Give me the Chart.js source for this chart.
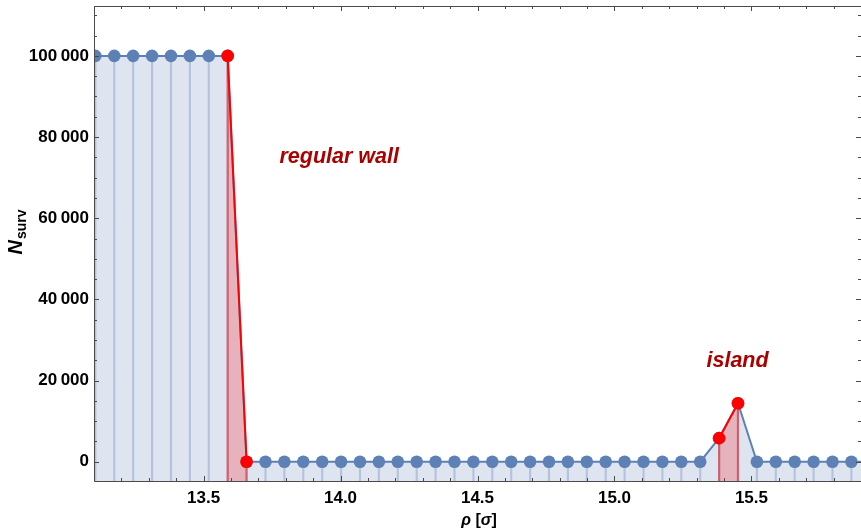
<!DOCTYPE html>
<html>
<head>
<meta charset="utf-8">
<script src="https://cdn.jsdelivr.net/npm/chart.js@4.4.1/dist/chart.umd.min.js"></script>
<style>
  html, body { margin: 0; padding: 0; background: #fff; overflow: hidden; }
  canvas { display: block; }
</style>
</head>
<body>
<canvas id="survChart" width="861" height="531"></canvas>
<script>
// shell radius and survivors per shell
const rho = [13.036, 13.105, 13.174, 13.243, 13.312, 13.381, 13.450, 13.519, 13.588, 13.657,
  13.726, 13.795, 13.864, 13.933, 14.002, 14.071, 14.140, 14.209, 14.278, 14.347,
  14.416, 14.485, 14.554, 14.623, 14.692, 14.761, 14.830, 14.899, 14.968, 15.037,
  15.106, 15.175, 15.244, 15.313, 15.382, 15.451, 15.520, 15.589, 15.658, 15.727,
  15.796, 15.865, 15.934];
const nSurv = [100000, 100000, 100000, 100000, 100000, 100000, 100000, 100000, 100000, 0,
  0, 0, 0, 0, 0, 0, 0, 0, 0, 0,
  0, 0, 0, 0, 0, 0, 0, 0, 0, 0,
  0, 0, 0, 0, 5800, 14400, 0, 0, 0, 0,
  0, 0, 0];

// highlighted segments
const wallRho = [13.588, 13.657];
const wallN = [100000, 0];
const islandRho = [15.382, 15.451];
const islandN = [5800, 14400];

const xTicks = [13.5, 14.0, 14.5, 15.0, 15.5];
const xMinor = [13.1, 13.2, 13.3, 13.4, 13.5, 13.6, 13.7, 13.8, 13.9, 14.0, 14.1, 14.2, 14.3, 14.4,
  14.5, 14.6, 14.7, 14.8, 14.9, 15.0, 15.1, 15.2, 15.3, 15.4, 15.5, 15.6, 15.7, 15.8, 15.9];
const yTicks = [0, 20000, 40000, 60000, 80000, 100000];
const yMinor = [0, 5000, 10000, 15000, 20000, 25000, 30000, 35000, 40000, 45000, 50000, 55000,
  60000, 65000, 70000, 75000, 80000, 85000, 90000, 95000, 100000, 105000, 110000];
const notes = ["regular wall", "island"];

const X_MIN = 13.1, X_MAX = 15.9;
const Y_MIN = -4760, Y_MAX = 112300;

const FONT = '"Liberation Sans", Arial, sans-serif';
const BLUE = "#5e81b5";
const RED = "#ff0000";

function stems(xs, ys) {
  return xs.map((x, i) => ({ x: x, y: [Y_MIN, ys[i]] }));
}
function pts(xs, ys) {
  return xs.map((x, i) => ({ x: x, y: ys[i] }));
}
function thin(v) {
  return String(v).replace(/\B(?=(\d{3})+(?!\d))/g, "\u2009");
}

// frame with inward ticks, axis titles and notes
const decor = {
  id: "decor",
  afterDatasetsDraw(chart) {
    const { ctx, chartArea: a, scales } = chart;
    const xs = scales.x, ys = scales.y;
    ctx.save();
    ctx.strokeStyle = "#4a4a4a";
    ctx.lineWidth = 1;
    ctx.beginPath();
    ctx.rect(a.left + 0.5, a.top + 0.5, a.right - a.left, a.bottom - a.top);
    ctx.stroke();
    ctx.beginPath();
    xMinor.forEach(v => {
      const px = Math.round(xs.getPixelForValue(v)) + 0.5;
      const len = xTicks.some(t => Math.abs(t - v) < 1e-6) ? 5 : 3;
      ctx.moveTo(px, a.bottom);
      ctx.lineTo(px, a.bottom - len);
      ctx.moveTo(px, a.top);
      ctx.lineTo(px, a.top + len);
    });
    yMinor.forEach(v => {
      const py = Math.round(ys.getPixelForValue(v)) + 0.5;
      const len = yTicks.includes(v) ? 5 : 3;
      ctx.moveTo(a.left, py);
      ctx.lineTo(a.left + len, py);
      ctx.moveTo(a.right, py);
      ctx.lineTo(a.right - len, py);
    });
    ctx.stroke();
    ctx.restore();
  },
  afterDraw(chart) {
    const { ctx, scales } = chart;
    const xs = scales.x, ys = scales.y;
    ctx.save();
    ctx.fillStyle = "#000";
    ctx.textBaseline = "alphabetic";

    // x title: rho [sigma]
    const parts = [
      ["\u03c1", "italic bold 16px " + FONT],
      [" [", "bold 16px " + FONT],
      ["\u03c3", "italic bold 16px " + FONT],
      ["]", "bold 16px " + FONT]
    ];
    let total = 0;
    parts.forEach(p => { ctx.font = p[1]; total += ctx.measureText(p[0]).width; });
    let cx = 479 - total / 2;
    parts.forEach(p => {
      ctx.font = p[1];
      ctx.fillText(p[0], cx, 524.5);
      cx += ctx.measureText(p[0]).width;
    });

    // y title: N_surv
    ctx.save();
    ctx.translate(22, 232);
    ctx.rotate(-Math.PI / 2);
    ctx.font = "italic bold 20px " + FONT;
    const wN = ctx.measureText("N").width;
    ctx.font = "bold 14px " + FONT;
    const wS = ctx.measureText("surv").width;
    const x0 = -(wN + wS + 1) / 2;
    ctx.font = "italic bold 20px " + FONT;
    ctx.fillText("N", x0, 0);
    ctx.font = "bold 14px " + FONT;
    ctx.fillText("surv", x0 + wN + 1, 4);
    ctx.restore();

    // notes
    ctx.fillStyle = "#aa0000";
    ctx.font = "italic bold 21.5px " + FONT;
    ctx.fillText(notes[0], xs.getPixelForValue(13.777), ys.getPixelForValue(73530));
    ctx.fillText(notes[1], xs.getPixelForValue(15.336), ys.getPixelForValue(23340));
    ctx.restore();
  }
};

const tickFont = { family: FONT, size: 17, weight: "bold" };

new Chart(document.getElementById("survChart"), {
  type: "line",
  data: {
    datasets: [
      {
        label: "wall",
        data: pts(wallRho, wallN),
        borderColor: RED,
        borderWidth: 2,
        backgroundColor: "rgba(255,0,0,0.22)",
        fill: "start",
        pointRadius: 6.3,
        pointBackgroundColor: RED,
        pointBorderWidth: 0,
        clip: 0
      },
      {
        label: "island",
        data: pts(islandRho, islandN),
        borderColor: RED,
        borderWidth: 2,
        backgroundColor: "rgba(255,0,0,0.22)",
        fill: "start",
        pointRadius: 6.3,
        pointBackgroundColor: RED,
        pointBorderWidth: 0,
        clip: 0
      },
      {
        type: "bar",
        label: "red stems",
        data: stems(wallRho.concat(islandRho), wallN.concat(islandN)),
        backgroundColor: "rgba(225,40,50,0.6)",
        barThickness: 1.5,
        grouped: false,
        clip: 0
      },
      {
        label: "N_surv",
        data: pts(rho, nSurv),
        borderColor: BLUE,
        borderWidth: 2,
        backgroundColor: "#dfe5f0",
        fill: "start",
        pointRadius: 6.3,
        pointBackgroundColor: BLUE,
        pointBorderWidth: 0,
        clip: 0
      },
      {
        type: "bar",
        label: "stems",
        data: stems(rho, nSurv),
        backgroundColor: "rgba(94,129,181,0.33)",
        barThickness: 1.5,
        grouped: false,
        clip: 0
      }
    ]
  },
  options: {
    responsive: false,
    animation: false,
    // plot frame runs just past the right edge of the canvas
    layout: { autoPadding: false, padding: { top: 6, right: -2, left: 0, bottom: 0 } },
    plugins: {
      legend: { display: false },
      tooltip: { enabled: false },
      filler: { drawTime: "beforeDatasetsDraw" }
    },
    elements: { line: { tension: 0 } },
    scales: {
      x: {
        type: "linear",
        min: X_MIN,
        max: X_MAX,
        offset: false,
        grid: { display: false, drawTicks: false },
        border: { display: false },
        ticks: {
          padding: 7,
          color: "#000",
          font: tickFont,
          autoSkip: false,
          maxRotation: 0,
          callback: v => v.toFixed(1)
        },
        afterBuildTicks: s => { s.ticks = xTicks.map(v => ({ value: v })); },
        afterFit: s => { s.height = 50; s.paddingLeft = 0; s.paddingRight = 0; }
      },
      y: {
        min: Y_MIN,
        max: Y_MAX,
        grid: { display: false, drawTicks: false },
        border: { display: false },
        ticks: {
          padding: 5,
          color: "#000",
          font: tickFont,
          autoSkip: false,
          callback: v => thin(v)
        },
        afterBuildTicks: s => { s.ticks = yTicks.map(v => ({ value: v })); },
        afterFit: s => { s.width = 94; s.paddingTop = 0; s.paddingBottom = 0; }
      }
    }
  },
  plugins: [decor]
});
</script>
</body>
</html>
